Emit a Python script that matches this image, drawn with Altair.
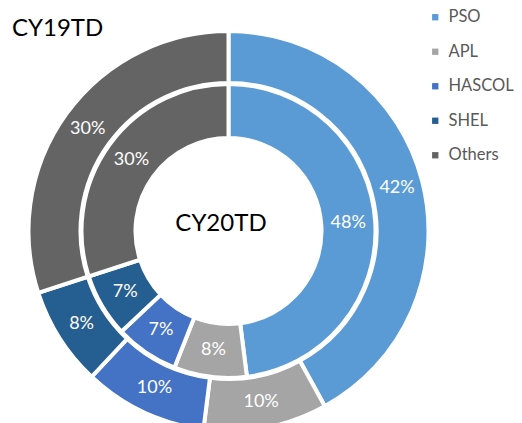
import altair as alt
import pandas as pd

companies = ["PSO", "APL", "HASCOL", "SHEL", "Others"]
cy19td = [42, 10, 10, 8, 30]   # outer ring
cy20td = [48, 8, 7, 7, 30]     # inner ring
colors = ["#5B9BD5", "#A5A5A5", "#4472C4", "#255E91", "#646464"]
ring_titles = ["CY19TD", "CY20TD"]

FONT = "Lato"
CX, CY = 220.5, 223


def frame(values):
    df = pd.DataFrame({"company": companies, "share": values, "order": list(range(len(companies)))})
    df["label"] = df["share"].astype(str) + "%"
    return df


outer = frame(cy19td)
inner = frame(cy20td)

color = alt.Color(
    "company:N",
    scale=alt.Scale(domain=companies, range=colors),
    sort=companies,
    legend=alt.Legend(
        title=None, orient="none", legendX=419, legendY=1,
        symbolType="square", symbolSize=40, symbolStrokeWidth=0,
        labelFontSize=16.5, labelColor="#595959", labelFont=FONT,
        rowPadding=17.5, labelOffset=5, labelLimit=200,
    ),
)


def ring(df, r_in, r_out):
    base = alt.Chart(df).encode(
        theta=alt.Theta("share:Q", stack=True),
        order=alt.Order("order:Q"),
        x=alt.value(CX),
        y=alt.value(CY),
    )
    arc = base.mark_arc(innerRadius=r_in - 2, outerRadius=r_out + 2,
                        stroke="white", strokeWidth=4).encode(color=color)
    text = base.mark_text(radius=(r_in + r_out) / 2, fill="white", fontSize=18,
                          font=FONT, align="center", baseline="middle").encode(
        text="label:N", detail="company:N")
    return arc + text


t19 = alt.Chart(pd.DataFrame({"t": [ring_titles[0]]})).mark_text(
    align="left", baseline="alphabetic", fontSize=24, font=FONT, color="black"
).encode(x=alt.value(4), y=alt.value(28), text="t:N")

t20 = alt.Chart(pd.DataFrame({"t": [ring_titles[1]]})).mark_text(
    align="center", baseline="middle", fontSize=24, font=FONT, color="black"
).encode(x=alt.value(213), y=alt.value(216), text="t:N")

chart = alt.layer(ring(outer, 150, 198), ring(inner, 95, 145), t19, t20).properties(
    width=506, height=415, autosize=alt.AutoSizeParams(type="none"), padding=0
).configure_view(stroke=None)

chart.save("out.html", embed_options={"renderer": "svg", "actions": False})
